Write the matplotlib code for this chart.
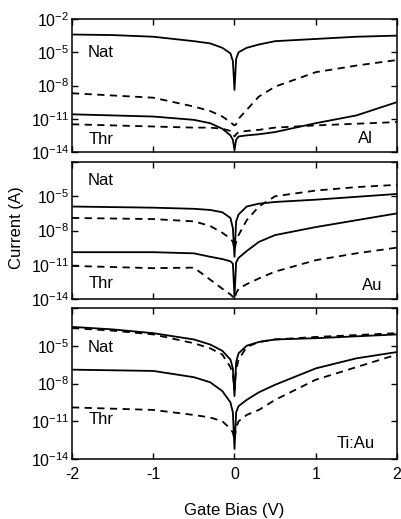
"""Gate-bias sweeps of current for three contact metals (Al, Au, Ti:Au)."""

import matplotlib

matplotlib.use("Agg")
import matplotlib.pyplot as plt
import numpy as np

# gate bias grid shared by every curve (V)
gate_bias = [-2, -1.5, -1, -0.5, -0.3, -0.15, -0.05, -0.02, 0,
             0.02, 0.05, 0.15, 0.3, 0.5, 1, 1.5, 2]

# log10 of current (A)
al_nat_solid = [-3.4, -3.45, -3.6, -4.0, -4.2, -4.6, -5.1, -5.8, -8.4,
                -5.6, -5.0, -4.6, -4.3, -4.0, -3.8, -3.6, -3.5]
al_nat_dash = [-8.7, -8.9, -9.1, -9.9, -10.3, -10.8, -11.3, -11.5, -11.6,
               -11.5, -11.0, -10.2, -9.0, -8.1, -6.8, -6.2, -5.7]
al_thr_solid = [-10.6, -10.7, -10.8, -11.1, -11.4, -11.9, -12.5, -12.9, -13.8,
                -12.9, -12.6, -12.5, -12.4, -12.2, -11.4, -10.7, -9.5]
al_thr_dash = [-11.5, -11.6, -11.7, -11.8, -11.8, -11.9, -12.1, -12.3, -12.6,
               -12.4, -12.2, -12.1, -12.0, -11.8, -11.6, -11.45, -11.3]

au_nat_solid = [-5.9, -5.95, -6.0, -6.1, -6.2, -6.4, -6.9, -7.8, -10.3,
                -7.2, -6.6, -5.9, -5.65, -5.5, -5.3, -5.05, -4.8]
au_nat_dash = [-6.9, -6.95, -7.0, -7.2, -7.6, -8.2, -8.7, -9.0, -9.7,
               -9.0, -8.4, -7.1, -5.9, -5.0, -4.5, -4.2, -4.0]
au_thr_solid = [-9.9, -9.9, -9.9, -10.0, -10.3, -10.5, -10.7, -10.9, -13.8,
                -10.8, -10.4, -9.8, -9.0, -8.4, -7.7, -7.1, -6.5]
au_thr_dash = [-11.1, -11.2, -11.3, -11.25, -12.3, -13.1, -13.6, -13.8, -14.0,
               -13.5, -13.1, -12.7, -12.2, -11.6, -10.6, -10.0, -9.5]

tiau_nat_solid = [-3.5, -3.7, -4.0, -4.5, -4.9, -5.4, -6.1, -6.8, -9.0,
                  -6.3, -5.6, -5.0, -4.7, -4.5, -4.4, -4.25, -4.1]
tiau_nat_dash = [-3.6, -3.8, -4.1, -4.8, -5.2, -5.7, -6.7, -7.3, -8.5,
                 -6.9, -6.1, -5.1, -4.7, -4.5, -4.3, -4.15, -4.0]
tiau_thr_solid = [-6.9, -6.95, -7.0, -7.5, -7.9, -8.6, -9.5, -10.3, -13.2,
                  -10.3, -9.8, -9.3, -8.7, -8.1, -6.8, -6.0, -5.5]
tiau_thr_dash = [-9.9, -10.0, -10.1, -10.5, -10.7, -11.0, -11.6, -11.9, -12.5,
                 -11.5, -11.0, -10.5, -10.1, -9.3, -7.7, -6.7, -5.7]

metals = ["Al", "Au", "Ti:Au"]
y_ticks = [1e-14, 1e-11, 1e-8, 1e-5, 1e-2]
x_ticks = [-2, -1, 0, 1, 2]


def style_axis(ax, show_top_label):
    ax.set_yscale("log")
    ax.set_xlim(-2, 2)
    ax.set_ylim(1e-14, 1e-2)
    ax.set_yticks(y_ticks)
    labels = ["$10^{-%d}$" % (-int(np.log10(t))) for t in y_ticks]
    if not show_top_label:
        labels[-1] = ""
    ax.set_yticklabels(labels)
    ax.yaxis.set_minor_locator(matplotlib.ticker.NullLocator())
    ax.set_xticks(x_ticks)
    ax.tick_params(direction="in", top=True, right=True, length=4,
                   width=1.0, labelsize=11.5)
    ax.tick_params(axis="y", pad=2)
    ax.tick_params(axis="x", pad=6)
    for spine in ax.spines.values():
        spine.set_linewidth(1.1)


def main() -> None:
    plt.rcParams["font.family"] = "Liberation Sans"
    plt.rcParams["mathtext.fontset"] = "custom"
    plt.rcParams["mathtext.rm"] = "Liberation Sans"
    plt.rcParams["mathtext.it"] = "Liberation Sans"
    plt.rcParams["mathtext.default"] = "regular"
    plt.rcParams["axes.unicode_minus"] = False

    fig = plt.figure(figsize=(4.02, 5.19), dpi=100)
    w, h = 402, 519
    # panel boxes in pixels: (top, bottom)
    boxes = [(19, 152), (162, 299), (308, 459)]
    left, right = 72, 397

    curves = [
        (al_nat_solid, al_nat_dash, al_thr_solid, al_thr_dash),
        (au_nat_solid, au_nat_dash, au_thr_solid, au_thr_dash),
        (tiau_nat_solid, tiau_nat_dash, tiau_thr_solid, tiau_thr_dash),
    ]
    nat_y = [-5.0, -3.6, -5.1]
    thr_y = [-12.9, -12.6, -10.9]
    metal_x = [1.70, 1.82, 1.73]

    x = np.array(gate_bias)
    for i, ((top, bottom), series) in enumerate(zip(boxes, curves)):
        ax = fig.add_axes([left / w, 1 - bottom / h, (right - left) / w,
                           (bottom - top) / h])
        nat_s, nat_d, thr_s, thr_d = series
        for vals, dashed in ((nat_s, False), (nat_d, True),
                             (thr_s, False), (thr_d, True)):
            line, = ax.plot(x, 10.0 ** np.array(vals), color="black",
                            linewidth=1.3)
            if dashed:
                line.set_dashes((4, 3))
        style_axis(ax, show_top_label=(i == 0))
        if i < 2:
            ax.set_xticklabels([])
        ax.text(-1.81, 10.0 ** nat_y[i], "Nat", fontsize=12, va="center")
        ax.text(-1.79, 10.0 ** thr_y[i], "Thr", fontsize=12, va="center")
        ax.text(metal_x[i], 10.0 ** -12.8, metals[i], fontsize=12,
                va="center", ha="right")

    fig.text(17 / w, 1 - 228 / h, "Current (A)", rotation=90, fontsize=12,
             ha="center", va="center")
    fig.text(234 / w, 1 - 510 / h, "Gate Bias (V)", fontsize=12,
             ha="center", va="center")
    fig.savefig("out.png", dpi=100)


if __name__ == "__main__":
    main()
